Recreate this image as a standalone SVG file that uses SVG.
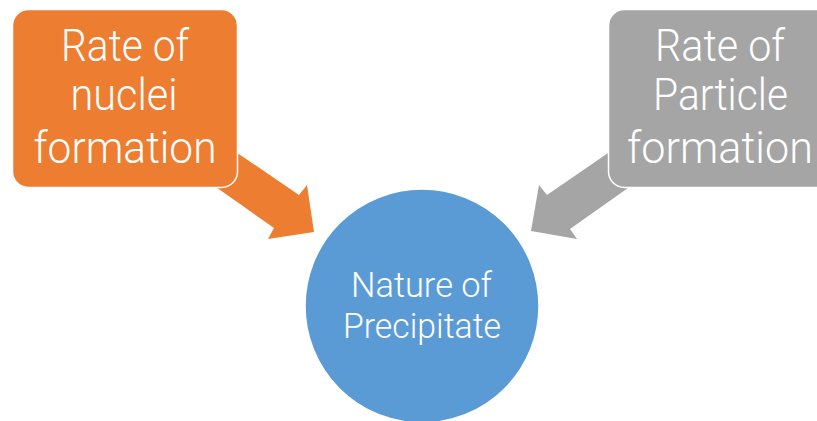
<svg xmlns="http://www.w3.org/2000/svg" width="817" height="421" viewBox="0 0 817 421">
<style>
.lbl{font-family:Roboto,"Open Sans","Liberation Sans",sans-serif;font-weight:300;fill:#fff;text-anchor:middle}
.box{font-size:45px}
.cir{font-size:35px}
</style>
<rect width="817" height="421" fill="#fff"/>
<g id="connectors">
<polygon id="arrow-orange" fill="#ED7D31" points="205,131 299,195 307,185 314,232 268,239 274,228 186,166"/>
<polygon id="arrow-gray" fill="#A5A5A5" points="640,131 547,195 539,185 531,231 577,239 570,229 659,166"/>
</g>
<g id="node-nuclei">
<rect x="12.5" y="9.5" width="225" height="178" rx="16" fill="#ED7D31" stroke="#fff" stroke-width="1.5"/>
<text class="lbl box" x="125" y="61" textLength="128" lengthAdjust="spacingAndGlyphs">Rate of</text>
<text class="lbl box" x="124" y="110" textLength="107" lengthAdjust="spacingAndGlyphs">nuclei</text>
<text class="lbl box" x="125" y="163" textLength="183" lengthAdjust="spacingAndGlyphs">formation</text>
</g>
<g id="node-particle">
<rect x="608.5" y="9.5" width="225" height="178" rx="16" fill="#A5A5A5" stroke="#fff" stroke-width="1.5"/>
<text class="lbl box" x="720" y="61" textLength="130" lengthAdjust="spacingAndGlyphs">Rate of</text>
<text class="lbl box" x="720.5" y="110" textLength="135" lengthAdjust="spacingAndGlyphs">Particle</text>
<text class="lbl box" x="720" y="163" textLength="186" lengthAdjust="spacingAndGlyphs">formation</text>
</g>
<g id="node-precipitate">
<circle cx="422" cy="306" r="117" fill="#5B9BD5" stroke="#fff" stroke-width="1.5"/>
<text class="lbl cir" x="421.5" y="297" textLength="141" lengthAdjust="spacingAndGlyphs">Nature of</text>
<text class="lbl cir" x="422" y="338" textLength="158" lengthAdjust="spacingAndGlyphs">Precipitate</text>
</g>
</svg>
